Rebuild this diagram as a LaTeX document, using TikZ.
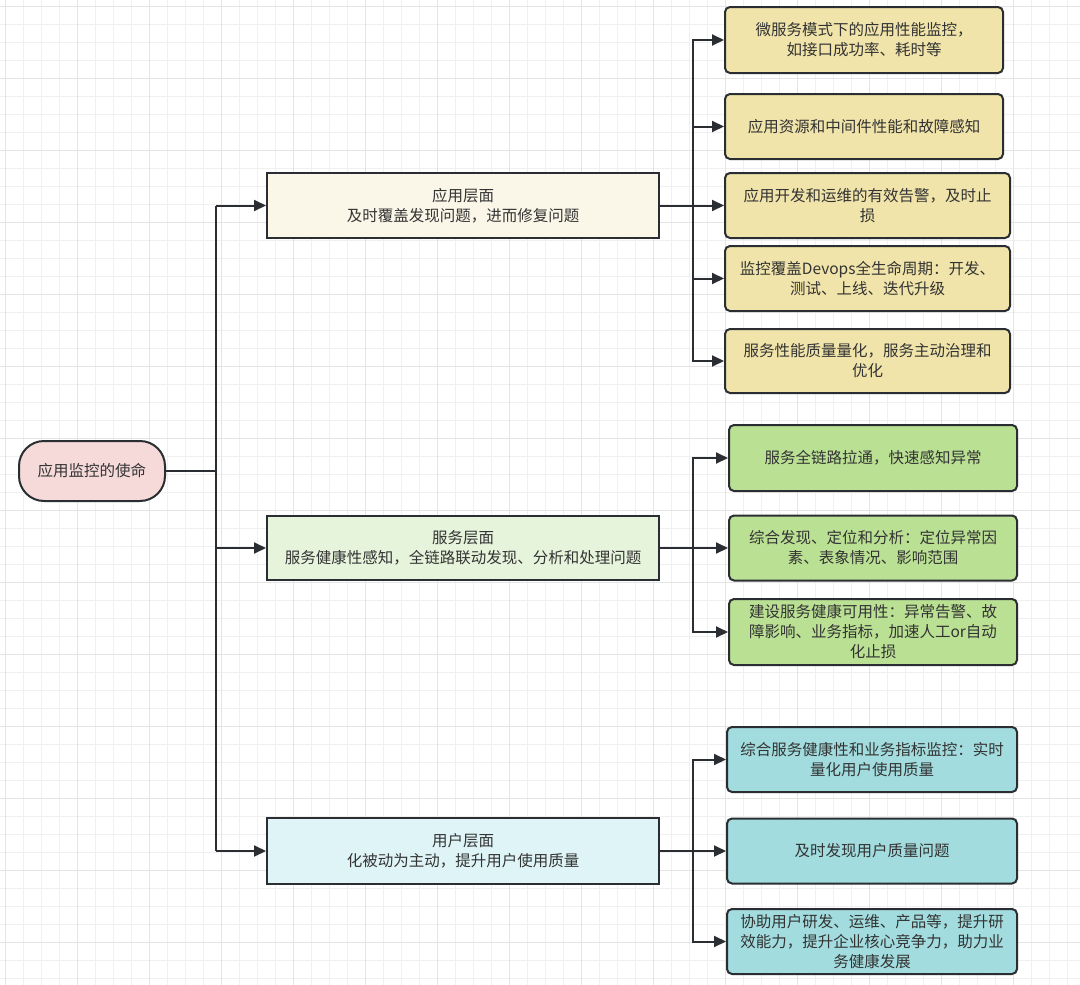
\documentclass[tikz,border=0pt]{standalone}
\usepackage{fontspec}
\setmainfont{Noto Sans CJK SC}
\usetikzlibrary{arrows.meta}
\definecolor{gridminor}{HTML}{F0F0F0}
\definecolor{gridmajor}{HTML}{E4E4E4}
\definecolor{bordercol}{HTML}{2A2E32}
\definecolor{txtcol}{HTML}{333333}
\definecolor{rootfill}{HTML}{F6DADA}
\definecolor{appfill}{HTML}{FBF7E8}
\definecolor{svcfill}{HTML}{E6F4DC}
\definecolor{usrfill}{HTML}{DEF4F6}
\definecolor{appleaf}{HTML}{F0E4AA}
\definecolor{svcleaf}{HTML}{BAE094}
\definecolor{usrleaf}{HTML}{A2DCDE}
\tikzset{
  box/.style={draw=bordercol, line width=2pt, text=txtcol, align=center,
    font=\fontsize{15.5}{20}\selectfont, inner sep=0pt},
  lvlbox/.style={box, minimum width=392pt, minimum height=65pt},
  leafbox/.style={box, rounded corners=5pt, minimum height=65pt},
  conn/.style={draw=bordercol, line width=2pt},
  arr/.style={conn, -{Triangle[length=12pt,width=11pt]}},
}
\begin{document}
\begin{tikzpicture}[x=1pt,y=-1pt]
\useasboundingbox (0,0) rectangle (1080,985);
\fill[white] (0,0) rectangle (1080,985);
% grid
\foreach \x in {5,23,...,1080} \draw[gridminor, line width=0.8pt] (\x,0) -- (\x,985);
\foreach \y in {6,24,...,985} \draw[gridminor, line width=0.8pt] (0,\y) -- (1080,\y);
\foreach \x in {5,77,...,1080} \draw[gridmajor, line width=0.8pt] (\x,0) -- (\x,985);
\foreach \y in {6,78,...,985} \draw[gridmajor, line width=0.8pt] (0,\y) -- (1080,\y);

% root
\node[box, fill=rootfill, rounded corners=25pt, minimum width=146pt, minimum height=60pt] (root) at (92,471) {应用监控的使命};

% level 1
\node[lvlbox, fill=appfill] (app) at (463,205.5) {应用层面\\及时覆盖发现问题，进而修复问题};
\node[lvlbox, fill=svcfill, minimum height=64pt] (svc) at (463,548) {服务层面\\服务健康性感知，全链路联动发现、分析和处理问题};
\node[lvlbox, fill=usrfill, minimum height=66pt] (usr) at (463,851) {用户层面\\化被动为主动，提升用户使用质量};

% app leaves
\node[leafbox, fill=appleaf, minimum width=278pt, minimum height=66pt] (a1) at (864,40) {微服务模式下的应用性能监控，\\如接口成功率、耗时等};
\node[leafbox, fill=appleaf, minimum width=278pt] (a2) at (864,126.5) {应用资源和中间件性能和故障感知};
\node[leafbox, fill=appleaf, minimum width=285pt] (a3) at (867.5,205.5) {应用开发和运维的有效告警，及时止\\损};
\node[leafbox, fill=appleaf, minimum width=285pt] (a4) at (867.5,278.5) {监控覆盖Devops全生命周期：开发、\\测试、上线、迭代升级};
\node[leafbox, fill=appleaf, minimum width=285pt, minimum height=64pt] (a5) at (867.5,361) {服务性能质量量化，服务主动治理和\\优化};

% service leaves
\node[leafbox, fill=svcleaf, minimum width=288pt, minimum height=66pt] (s1) at (873,458) {服务全链路拉通，快速感知异常};
\node[leafbox, fill=svcleaf, minimum width=288pt] (s2) at (873,548) {综合发现、定位和分析：定位异常因\\素、表象情况、影响范围};
\node[leafbox, fill=svcleaf, minimum width=288pt, minimum height=66pt] (s3) at (873,632) {建设服务健康可用性：异常告警、故\\障影响、业务指标，加速人工or自动\\化止损};

% user leaves
\node[leafbox, fill=usrleaf, minimum width=290pt] (u1) at (872,759.5) {综合服务健康性和业务指标监控：实时\\量化用户使用质量};
\node[leafbox, fill=usrleaf, minimum width=290pt] (u2) at (872,851) {及时发现用户质量问题};
\node[leafbox, fill=usrleaf, minimum width=290pt] (u3) at (872,941.5) {协助用户研发、运维、产品等，提升研\\效能力，提升企业核心竞争力，助力业\\务健康发展};

% left connectors
\coordinate (tR) at (216,471);
\coordinate (tA) at (216,205.5);
\coordinate (tS) at (216,548);
\coordinate (tU) at (216,851);
\draw[conn] (root.east) -- (tR);
\draw[conn] (tA) -- (tU);
\draw[arr] (tA) -- (app.west);
\draw[arr] (tS) -- (svc.west);
\draw[arr] (tU) -- (usr.west);

% right connectors
\coordinate (bA) at (693,205.5);
\coordinate (bS) at (693,548);
\coordinate (bU) at (693,851);
\foreach \n in {a1,a2,a3,a4,a5} \draw[arr] (app.east) -- (bA) |- (\n.west);
\foreach \n in {s1,s2,s3} \draw[arr] (svc.east) -- (bS) |- (\n.west);
\foreach \n in {u1,u2,u3} \draw[arr] (usr.east) -- (bU) |- (\n.west);
\end{tikzpicture}
\end{document}
